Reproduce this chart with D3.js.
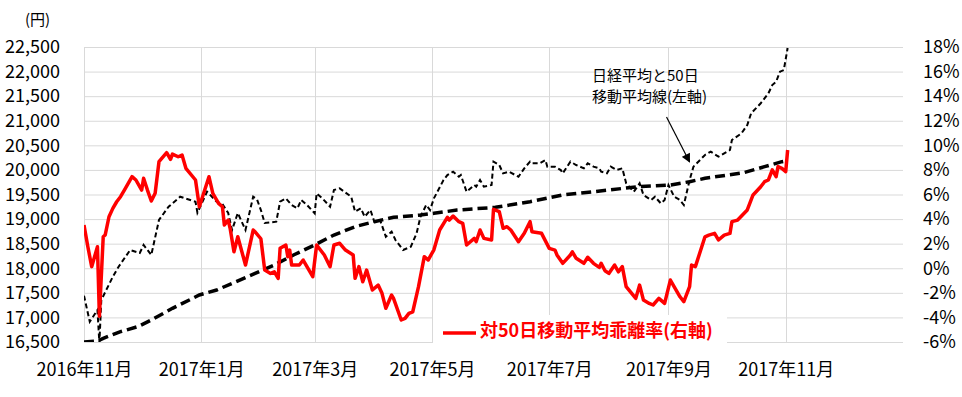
<!DOCTYPE html>
<html>
<head>
<meta charset="utf-8">
<script src="https://cdn.jsdelivr.net/npm/d3@7"></script>
<style>
  body{margin:0;background:#fff;}
  text{font-family:"Noto Sans CJK JP","Noto Sans",sans-serif;fill:#000;}
</style>
</head>
<body>
<script>
(function(){

  //pseudo-global data
  var nikkei = [ //日経平均 (left axis, yen)
    ["2016-11-01",17442],["2016-11-04",16913],["2016-11-08",17150],["2016-11-09",16480],["2016-11-10",17354],
    ["2016-11-16",17828],["2016-11-19",18031],["2016-11-25",18371],["2016-11-30",18310],["2016-12-02",18473],
    ["2016-12-06",18270],["2016-12-10",18981],["2016-12-15",19252],["2016-12-21",19455],["2016-12-29",19353],
    ["2016-12-30",19130],["2017-01-04",19557],["2017-01-09",19353],["2017-01-12",19307],["2017-01-15",19124],
    ["2017-01-17",18778],["2017-01-20",19124],["2017-01-24",18778],["2017-01-28",19455],["2017-01-30",19400],
    ["2017-02-01",19184],["2017-02-03",18920],["2017-02-09",18947],["2017-02-11",19353],["2017-02-14",19421],
    ["2017-02-17",19286],["2017-02-20",19218],["2017-02-22",19388],["2017-02-25",19286],["2017-03-01",19117],
    ["2017-03-02",19523],["2017-03-05",19421],["2017-03-09",19252],["2017-03-11",19591],["2017-03-14",19625],
    ["2017-03-20",19455],["2017-03-22",19150],["2017-03-25",19218],["2017-03-27",19048],["2017-03-30",19184],
    ["2017-04-01",18947],["2017-04-04",18981],["2017-04-07",18642],["2017-04-10",18744],["2017-04-12",18574],
    ["2017-04-16",18371],["2017-04-20",18439],["2017-04-23",18710],["2017-04-25",19048],["2017-04-28",19286],
    ["2017-04-30",19184],["2017-05-02",19421],["2017-05-07",19794],["2017-05-09",19896],["2017-05-12",19964],
    ["2017-05-15",19862],["2017-05-16",19896],["2017-05-19",19557],["2017-05-23",19693],["2017-05-24",19659],
    ["2017-05-26",19794],["2017-05-28",19659],["2017-06-01",19693],["2017-06-02",20168],["2017-06-05",20100],
    ["2017-06-07",19930],["2017-06-10",19964],["2017-06-15",19862],["2017-06-18",20032],["2017-06-21",20168],
    ["2017-06-22",20134],["2017-06-26",20134],["2017-06-29",20202],["2017-06-30",20066],["2017-07-04",20066],
    ["2017-07-07",19998],["2017-07-08",19930],["2017-07-12",20168],["2017-07-15",20100],["2017-07-19",20032],
    ["2017-07-21",20134],["2017-07-24",20066],["2017-07-27",20032],["2017-07-28",19964],["2017-07-31",19930],
    ["2017-08-02",20066],["2017-08-05",19998],["2017-08-08",20032],["2017-08-10",19727],["2017-08-14",19557],
    ["2017-08-17",19727],["2017-08-19",19490],["2017-08-23",19388],["2017-08-25",19455],["2017-08-28",19320],
    ["2017-08-30",19388],["2017-09-01",19693],["2017-09-04",19455],["2017-09-07",19388],["2017-09-09",19286],
    ["2017-09-12",19794],["2017-09-14",20066],["2017-09-20",20304],["2017-09-23",20372],["2017-09-27",20270],
    ["2017-09-30",20338],["2017-10-03",20406],["2017-10-04",20609],["2017-10-09",20744],["2017-10-12",20914],
    ["2017-10-14",21151],["2017-10-19",21355],["2017-10-23",21558],["2017-10-25",21727],["2017-10-27",21794],
    ["2017-10-29",21998],["2017-10-31",22032],["2017-11-02",22480]
  ];

  var movingAvg = [ //50日移動平均線 (left axis, yen)
    ["2016-11-01",16500],["2016-11-08",16520],["2016-11-11",16575],["2016-11-20",16710],["2016-11-29",16812],
    ["2016-12-06",16947],["2016-12-17",17185],["2016-12-31",17456],["2017-01-09",17557],["2017-01-19",17726],
    ["2017-01-29",17897],["2017-02-08",18066],["2017-02-18",18270],["2017-03-01",18473],["2017-03-11",18676],
    ["2017-03-22",18845],["2017-04-01",18947],["2017-04-11",19036],["2017-04-25",19083],["2017-05-02",19117],
    ["2017-05-14",19184],["2017-06-03",19239],["2017-06-21",19353],["2017-07-08",19490],["2017-08-01",19591],
    ["2017-08-16",19659],["2017-09-02",19693],["2017-09-12",19761],["2017-09-20",19829],["2017-10-10",19943],
    ["2017-10-21",20066],["2017-10-30",20168],["2017-11-02",20190]
  ];

  var deviation = [ //対50日移動平均乖離率 (right axis, %)
    ["2016-11-01",3.52],["2016-11-03",1.75],["2016-11-05",0.13],["2016-11-08",1.75],["2016-11-09",-3.9],
    ["2016-11-11",2.56],["2016-11-12",2.7],["2016-11-14",4.19],["2016-11-16",4.87],["2016-11-18",5.41],
    ["2016-11-20",5.82],["2016-11-22",6.36],["2016-11-26",7.45],["2016-11-28",7.18],["2016-12-01",6.36],
    ["2016-12-02",7.32],["2016-12-04",6.36],["2016-12-06",5.47],["2016-12-08",6.1],["2016-12-10",8.67],
    ["2016-12-14",9.4],["2016-12-16",8.86],["2016-12-17",9.29],["2016-12-20",9.07],["2016-12-22",9.21],
    ["2016-12-24",8.13],["2016-12-29",7.18],["2016-12-31",5.0],["2017-01-05",7.45],["2017-01-07",6.1],
    ["2017-01-10",5.28],["2017-01-12",5.0],["2017-01-13",3.52],["2017-01-15",3.92],["2017-01-16",3.25],
    ["2017-01-18",1.34],["2017-01-20",2.56],["2017-01-24",0.26],["2017-01-28",3.11],["2017-01-29",2.97],
    ["2017-02-01",2.4],["2017-02-03",-0.15],["2017-02-06",-0.42],["2017-02-08",-0.29],["2017-02-10",-0.83],
    ["2017-02-11",1.62],["2017-02-14",1.89],["2017-02-15",0.94],["2017-02-16",1.48],["2017-02-17",0.26],
    ["2017-02-21",0.26],["2017-02-23",0.67],["2017-02-28",-0.69],["2017-03-02",1.89],["2017-03-06",1.08],
    ["2017-03-09",0.13],["2017-03-11",1.89],["2017-03-14",2.03],["2017-03-17",1.48],["2017-03-21",1.08],
    ["2017-03-22",-0.82],["2017-03-24",0.13],["2017-03-26",-1.1],["2017-03-28",-0.15],["2017-03-31",-1.77],
    ["2017-04-03",-1.37],["2017-04-05",-2.04],["2017-04-07",-3.26],["2017-04-10",-2.18],["2017-04-11",-2.45],
    ["2017-04-15",-4.21],["2017-04-17",-4.08],["2017-04-19",-3.67],["2017-04-21",-3.54],["2017-04-24",-1.5],
    ["2017-04-27",0.94],["2017-04-29",0.67],["2017-05-02",1.5],["2017-05-05",3.11],["2017-05-09",4.14],
    ["2017-05-10",3.92],["2017-05-12",4.25],["2017-05-15",3.79],["2017-05-17",3.65],["2017-05-19",1.89],
    ["2017-05-23",2.43],["2017-05-24",2.16],["2017-05-26",3.11],["2017-05-28",2.43],["2017-06-01",2.3],
    ["2017-06-02",4.79],["2017-06-05",4.6],["2017-06-07",3.25],["2017-06-09",3.38],["2017-06-11",3.11],
    ["2017-06-15",2.16],["2017-06-18",2.84],["2017-06-21",3.79],["2017-06-22",2.97],["2017-06-27",2.84],
    ["2017-07-01",1.62],["2017-07-04",1.48],["2017-07-05",1.08],["2017-07-08",0.4],["2017-07-12",1.08],
    ["2017-07-13",1.34],["2017-07-15",0.81],["2017-07-19",0.4],["2017-07-21",0.89],["2017-07-24",0.4],
    ["2017-07-27",0.07],["2017-07-28",0.4],["2017-07-30",-0.2],["2017-08-01",-0.42],["2017-08-04",0.26],
    ["2017-08-06",-0.29],["2017-08-08",0.13],["2017-08-10",-1.5],["2017-08-15",-2.45],["2017-08-17",-1.37],
    ["2017-08-19",-2.59],["2017-08-22",-2.86],["2017-08-24",-2.99],["2017-08-27",-2.45],["2017-08-30",-2.86],
    ["2017-09-02",-0.96],["2017-09-07",-2.32],["2017-09-09",-2.72],["2017-09-12",-1.5],["2017-09-13",0.26],
    ["2017-09-15",0.13],["2017-09-20",2.56],["2017-09-22",2.7],["2017-09-25",2.84],["2017-09-27",2.3],
    ["2017-09-30",2.7],["2017-10-03",2.84],["2017-10-04",3.79],["2017-10-07",3.92],["2017-10-12",4.74],
    ["2017-10-15",5.96],["2017-10-19",6.63],["2017-10-21",7.04],["2017-10-23",7.18],["2017-10-25",8.0],
    ["2017-10-27",7.45],["2017-10-28",8.27],["2017-10-30",8.13],["2017-11-01",7.86],["2017-11-02",9.62]
  ];

  var yenTicks = [16500,17000,17500,18000,18500,19000,19500,20000,20500,21000,21500,22000,22500];
  var pctTicks = [-6,-4,-2,0,2,4,6,8,10,12,14,16,18];
  var monthTicks = ["2016-11-01","2017-01-01","2017-03-01","2017-05-01","2017-07-01","2017-09-01","2017-11-01"];
  var dateRange = ["2016-11-01","2018-01-01"];
  var yenUnit = "(円)";
  var noteLines = ["日経平均と50日","移動平均線(左軸)"];
  var legendLabel = "対50日移動平均乖離率(右軸)";

  window.onload = setChart(); //draw when the page loads

  function setChart(){
    var width = 962,
        height = 397,
        left = 84, right = 903, top = 47, bottom = 342;

    var parseDate = d3.timeParse("%Y-%m-%d");

    var svg = d3.select("body")
      .append("svg")
      .attr("width", width)
      .attr("height", height);

    var x = d3.scaleTime() //date axis
      .domain(dateRange.map(parseDate))
      .range([left, right]);

    var yLeft = d3.scaleLinear() //yen
      .domain([16500, 22500])
      .range([bottom, top]);

    var yRight = d3.scaleLinear() //percent
      .domain([-6, 18])
      .range([bottom, top]);

    //clip lines to the plot area
    svg.append("clipPath")
      .attr("id", "plot")
      .append("rect")
      .attr("x", left).attr("y", top)
      .attr("width", right - left).attr("height", bottom - top);

    //horizontal gridlines
    svg.append("g")
      .selectAll("line")
      .data(yenTicks)
      .enter()
      .append("line")
      .attr("x1", left).attr("x2", right)
      .attr("y1", function(d){ return yLeft(d) + 0.5; })
      .attr("y2", function(d){ return yLeft(d) + 0.5; })
      .attr("stroke", "#d9d9d9");

    //vertical gridlines
    svg.append("g")
      .selectAll("line")
      .data(monthTicks)
      .enter()
      .append("line")
      .attr("x1", function(d){ return Math.round(x(parseDate(d))) + 0.5; })
      .attr("x2", function(d){ return Math.round(x(parseDate(d))) + 0.5; })
      .attr("y1", top).attr("y2", bottom)
      .attr("stroke", "#d9d9d9");

    //axes (labels only)
    var leftAxis = svg.append("g")
      .attr("transform", "translate(" + left + ",0)")
      .call(d3.axisLeft(yLeft).tickValues(yenTicks).tickFormat(d3.format(",")).tickSize(0).tickPadding(24));

    var rightAxis = svg.append("g")
      .attr("transform", "translate(" + right + ",0)")
      .call(d3.axisRight(yRight).tickValues(pctTicks).tickFormat(function(d){ return d + "%"; }).tickSize(0).tickPadding(20));

    var bottomAxis = svg.append("g")
      .attr("transform", "translate(0," + bottom + ")")
      .call(d3.axisBottom(x).tickValues(monthTicks.map(parseDate)).tickFormat(d3.timeFormat("%Y年%-m月")).tickSize(0).tickPadding(21));

    [leftAxis, rightAxis, bottomAxis].forEach(function(a){
      a.select(".domain").remove();
      a.selectAll("text")
        .style("font-family", "'Noto Sans CJK JP', sans-serif")
        .style("font-size", "18px")
        .attr("fill", "#000");
    });

    svg.append("text") //unit label
      .attr("x", 25)
      .attr("y", 25)
      .style("font-size", "15px")
      .text(yenUnit);

    var lines = svg.append("g").attr("clip-path", "url(#plot)");

    var yenLine = d3.line()
      .x(function(d){ return x(parseDate(d[0])); })
      .y(function(d){ return yLeft(d[1]); });

    var pctLine = d3.line()
      .x(function(d){ return x(parseDate(d[0])); })
      .y(function(d){ return yRight(d[1]); });

    lines.append("path") //50 day moving average
      .datum(movingAvg)
      .attr("d", yenLine)
      .attr("fill", "none")
      .attr("stroke", "#000")
      .attr("stroke-width", 3.5)
      .attr("stroke-dasharray", "10,5");

    lines.append("path") //nikkei
      .datum(nikkei)
      .attr("d", yenLine)
      .attr("fill", "none")
      .attr("stroke", "#000")
      .attr("stroke-width", 2)
      .attr("stroke-dasharray", "5,3");

    lines.append("path") //deviation
      .datum(deviation)
      .attr("d", pctLine)
      .attr("fill", "none")
      .attr("stroke", "#ff0000")
      .attr("stroke-width", 3.5)
      .attr("stroke-linejoin", "round");

    //legend box for the red series
    svg.append("rect")
      .attr("x", 433).attr("y", 315)
      .attr("width", 294).attr("height", 31)
      .attr("fill", "#fff");

    svg.append("line")
      .attr("x1", 443).attr("x2", 476)
      .attr("y1", 333).attr("y2", 333)
      .attr("stroke", "#ff0000")
      .attr("stroke-width", 3.5);

    svg.append("text")
      .attr("x", 480)
      .attr("y", 337)
      .style("font-size", "18px")
      .style("font-weight", "bold")
      .style("fill", "#ff0000")
      .text(legendLabel);

    //annotation for the black lines
    var note = svg.append("text")
      .attr("x", 592)
      .attr("y", 81)
      .style("font-size", "15px");

    note.selectAll("tspan")
      .data(noteLines)
      .enter()
      .append("tspan")
      .attr("x", 592)
      .attr("dy", function(d, i){ return i ? 21 : 0; })
      .text(function(d){ return d; });

    svg.append("defs")
      .append("marker")
      .attr("id", "arrow")
      .attr("viewBox", "0 0 10 10")
      .attr("refX", 9).attr("refY", 5)
      .attr("markerUnits", "userSpaceOnUse")
      .attr("markerWidth", 10).attr("markerHeight", 9)
      .attr("orient", "auto")
      .append("path")
      .attr("d", "M0,0L10,5L0,10z")
      .attr("fill", "#000");

    svg.append("line") //arrow points at the moving average near early september
      .attr("x1", x(parseDate("2017-08-31"))).attr("y1", yLeft(21076))
      .attr("x2", x(parseDate("2017-09-12"))).attr("y2", yLeft(20160))
      .attr("stroke", "#000")
      .attr("stroke-width", 1.2)
      .attr("marker-end", "url(#arrow)");
  };
})();
</script>
</body>
</html>
